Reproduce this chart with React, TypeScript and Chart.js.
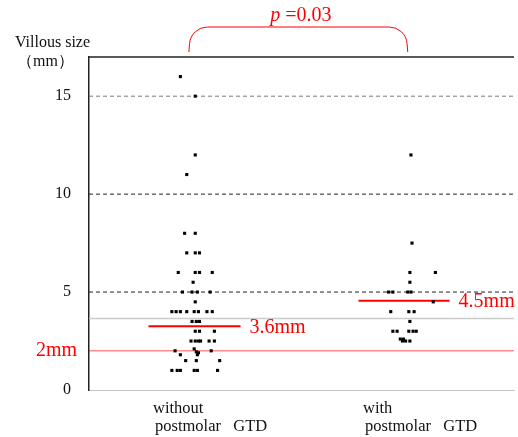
import { useEffect, useRef } from 'react';
import { Chart, registerables } from 'chart.js';

Chart.register(...registerables);

// ---- data ----
const categories = ['without', 'with'];
const categorySubLabel = 'postmolar   GTD';
const yAxisTitle = ['Villous size', '\uFF08mm\uFF09'];
const yTicks = [0, 5, 10, 15];

// Villous size (mm), group "without postmolar GTD"
const withoutValues = [
  16, 15, 12, 11, 8, 8, 7, 7, 7, 6, 6, 6, 6, 5.5, 5, 5, 5, 5, 4.5,
  4, 4, 4, 4, 4, 4, 4, 4, 3.5, 3.5, 3.5, 3, 3, 3, 2.5, 2.5, 2.5, 2.5, 2.5, 2.5,
  2, 1.8, 2.1, 1.95, 1.9, 1.8, 2, 1.5, 1.5, 1.5, 1, 1, 1, 1, 1, 1,
];
// horizontal jitter of each point (category units)
const withoutJitter = [
  -0.07, 0, 0, -0.04, -0.05, 0, -0.04, 0, 0.02, -0.08, 0, 0.02, 0.08, -0.01, -0.06, -0.015, 0.01, 0.07, 0,
  -0.11, -0.09, -0.07, -0.04, -0.005, 0.015, 0.055, 0.08, -0.015, 0.005, 0.02, 0, 0.02, 0.09,
  -0.02, 0, 0.015, 0.025, 0.065, 0.09,
  -0.095, -0.07, -0.005, 0.005, 0.015, 0.01, 0.075, -0.045, 0.005, 0.115, -0.11, -0.085, -0.07, -0.005, 0.01, 0.105,
];

// group "with postmolar GTD"
const withValues = [
  12, 7.5, 6, 6, 5.5, 5, 5, 5, 5, 4.5, 4, 4, 4, 3.5, 3, 3, 3, 3, 3, 2.6, 2.5, 2.6, 2.5, 2.5,
];
const withJitter = [
  0.015, 0.02, 0.01, 0.13, 0.01, -0.09, -0.07, 0, 0.015, 0.12, -0.08, 0.005, 0.03, 0.01,
  -0.07, -0.05, 0.005, 0.025, 0.04, -0.035, -0.025, -0.02, -0.01, 0.01,
];

const meanValues = [3.25, 4.55];
const meanLabels = ['3.6mm', '4.5mm'];
const meanSpan = [[-0.22, 0.213], [-0.232, 0.197]];
const thresholdValue = 2;
const thresholdLabel = '2mm';
const greyLineValue = 3.65;
const pValueLabel = '=0.03';
const bracketFrom = 0.97;
const bracketTo = 2.0;

const X_MIN = 0.5;
const X_MAX = 2.5;
const SERIF = '"Liberation Serif", "Times New Roman", serif';

function hLine(value: number, color: string, width: number, dash: number[] = []) {
  return {
    type: 'scatter' as const,
    data: [{ x: X_MIN, y: value }, { x: X_MAX, y: value }],
    showLine: true,
    borderColor: color,
    borderWidth: width,
    borderDash: dash,
    pointRadius: 0,
    order: 2,
  };
}

const decorations = {
  id: 'decorations',
  afterDraw(chart: any) {
    const { ctx, chartArea, scales } = chart;
    const x = scales.x;
    const y = scales.y;
    ctx.save();
    // top frame line
    ctx.strokeStyle = '#222';
    ctx.lineWidth = 1.5;
    ctx.beginPath();
    ctx.moveTo(chartArea.left, chartArea.top);
    ctx.lineTo(chartArea.right, chartArea.top);
    ctx.stroke();

    // y axis title
    ctx.fillStyle = '#111';
    ctx.font = `16px ${SERIF}`;
    ctx.textAlign = 'left';
    ctx.textBaseline = 'alphabetic';
    ctx.fillText(yAxisTitle[0], 15, 47);
    ctx.fillText(yAxisTitle[1], 17, 66);

    // category labels
    ctx.font = `16.5px ${SERIF}`;
    const catX = [153, 363];
    categories.forEach((c, i) => {
      ctx.fillText(c, catX[i], 413);
      ctx.fillText(categorySubLabel, catX[i] + 2, 431);
    });

    // threshold label
    ctx.fillStyle = '#ff0000';
    ctx.font = `20px ${SERIF}`;
    ctx.textAlign = 'right';
    ctx.textBaseline = 'middle';
    ctx.fillText(thresholdLabel, 77, y.getPixelForValue(thresholdValue));

    // mean labels
    ctx.textAlign = 'left';
    meanValues.forEach((m, i) => {
      const px = x.getPixelForValue(i + 1 + meanSpan[i][1]) + 9;
      ctx.fillText(meanLabels[i], px, y.getPixelForValue(m) + 1);
    });

    // bracket
    const bx1 = x.getPixelForValue(bracketFrom);
    const bx2 = x.getPixelForValue(bracketTo);
    const top = 27;
    const bottom = 52;
    ctx.strokeStyle = '#ff0000';
    ctx.lineWidth = 1;
    ctx.beginPath();
    ctx.moveTo(bx1, bottom);
    ctx.arcTo(bx1 + 2, top, bx1 + 22, top, 18);
    ctx.arcTo(bx2 - 2, top, bx2, bottom, 18);
    ctx.lineTo(bx2, bottom);
    ctx.stroke();

    // p value
    ctx.textBaseline = 'alphabetic';
    ctx.font = `italic 20px ${SERIF}`;
    ctx.textAlign = 'left';
    const mid = (bx1 + bx2) / 2;
    ctx.fillText('p', mid - 28, 21);
    ctx.font = `20px ${SERIF}`;
    ctx.fillText(pValueLabel, mid - 13, 21);
    ctx.restore();
  },
};

export default function App() {
  const ref = useRef<HTMLCanvasElement | null>(null);
  useEffect(() => {
    if (!ref.current) return;
    const points = (vals: number[], jit: number[], c: number) =>
      vals.map((v, i) => ({ x: c + jit[i], y: v }));
    const chart = new Chart(ref.current, {
      type: 'scatter',
      data: {
        datasets: [
          {
            data: points(withoutValues, withoutJitter, 1),
            pointStyle: 'rect',
            pointRadius: 2.2,
            borderWidth: 0,
            backgroundColor: '#000',
            order: 0,
          },
          {
            data: points(withValues, withJitter, 2),
            pointStyle: 'rect',
            pointRadius: 2.2,
            borderWidth: 0,
            backgroundColor: '#000',
            order: 0,
          },
          hLine(15, '#777', 1, [4, 3]),
          hLine(10, '#222', 1, [4, 3]),
          hLine(5, '#222', 1, [4, 3]),
          hLine(greyLineValue, '#cccccc', 1.5),
          hLine(thresholdValue, 'rgba(255,0,0,0.45)', 1.5),
          ...meanValues.map((m, i) => ({
            type: 'scatter' as const,
            data: [
              { x: i + 1 + meanSpan[i][0], y: m },
              { x: i + 1 + meanSpan[i][1], y: m },
            ],
            showLine: true,
            borderColor: '#ff0000',
            borderWidth: 2,
            pointRadius: 0,
            order: 1,
          })),
        ],
      },
      options: {
        animation: false,
        responsive: false,
        devicePixelRatio: 1,
        events: [],
        layout: { padding: { left: 0, right: 0, top: 57, bottom: 47 } },
        plugins: { legend: { display: false }, tooltip: { enabled: false } },
        scales: {
          x: {
            type: 'linear',
            min: X_MIN,
            max: X_MAX,
            ticks: { display: false },
            grid: { display: false, drawTicks: false },
            border: { display: true, color: '#c4c4c4', width: 1 },
          },
          y: {
            type: 'linear',
            min: 0,
            max: 17,
            afterFit: (scale: any) => {
              scale.width = 89;
            },
            afterBuildTicks: (scale: any) => {
              scale.ticks = yTicks.map((v) => ({ value: v }));
            },
            ticks: {
              font: { family: SERIF, size: 16 },
              color: '#111',
              padding: 18,
            },
            grid: { display: false, drawTicks: false },
            border: { display: true, color: '#222', width: 1.5 },
          },
        },
      },
      plugins: [decorations],
    } as any);
    return () => chart.destroy();
  }, []);
  return (
    <div style={{ position: 'absolute', left: 0, top: 0, width: 518, height: 437 }}>
      <canvas ref={ref} width={518} height={437} />
    </div>
  );
}
